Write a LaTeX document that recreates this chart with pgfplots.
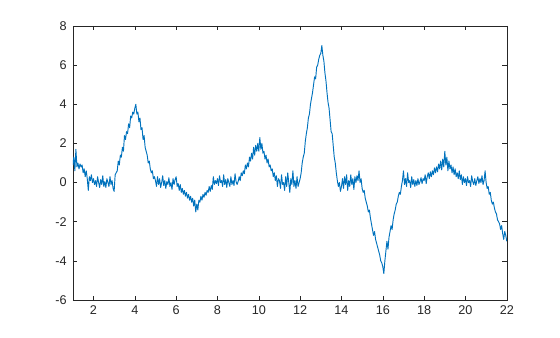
\documentclass[border=0pt]{standalone}
\usepackage{pgfplots}
\pgfplotsset{compat=1.18}
\usepackage{fontspec}
\setmainfont{Liberation Sans}
\definecolor{mblue}{rgb}{0,0.447,0.741}
\definecolor{axgray}{rgb}{0.15,0.15,0.15}
\pgfplotstableread{
x y
1.00 0.9
1.05 1.3
1.10 0.6
1.15 1.7
1.20 0.8
1.25 1.0
1.30 0.7
1.35 0.95
1.40 0.8
1.45 0.9
1.50 0.5
1.55 0.7
1.60 0.3
1.65 0.6
1.70 0.2
1.75 -0.4
1.80 0.3
1.85 0.1
1.90 0.4
1.95 0.0
2.00 0.2
2.05 -0.1
2.10 0.1
2.15 -0.2
2.20 0.3
2.25 0.0
2.30 -0.25
2.35 0.15
2.40 -0.1
2.45 0.35
2.50 -0.2
2.55 0.05
2.60 -0.25
2.65 0.2
2.70 0.0
2.75 -0.2
2.80 0.3
2.85 -0.1
2.90 0.1
2.95 -0.3
3.00 -0.45
3.05 0.4
3.10 0.5
3.15 0.6
3.20 1.1
3.25 0.9
3.30 1.4
3.35 1.3
3.40 1.8
3.45 1.6
3.50 2.4
3.55 2.2
3.60 2.6
3.65 2.5
3.70 3.0
3.75 2.8
3.80 3.4
3.85 3.3
3.90 3.6
3.95 3.5
4.00 3.8
4.05 4.0
4.10 3.5
4.15 3.6
4.20 3.1
4.25 3.3
4.30 2.7
4.35 2.8
4.40 2.2
4.45 2.4
4.50 1.8
4.55 1.6
4.60 1.4
4.65 1.0
4.70 1.1
4.75 0.7
4.80 0.5
4.85 0.6
4.90 0.2
4.95 0.3
5.00 0.1
5.05 -0.2
5.10 0.3
5.15 -0.1
5.20 0.2
5.25 -0.25
5.30 0.0
5.35 0.35
5.40 -0.15
5.45 0.1
5.50 -0.3
5.55 0.05
5.60 -0.1
5.65 0.25
5.70 -0.2
5.75 0.0
5.80 -0.35
5.85 0.2
5.90 -0.1
5.95 0.15
6.00 0.3
6.05 -0.2
6.10 -0.05
6.15 -0.4
6.20 -0.1
6.25 -0.5
6.30 -0.3
6.35 -0.6
6.40 -0.4
6.45 -0.7
6.50 -0.5
6.55 -0.8
6.60 -0.6
6.65 -0.9
6.70 -0.7
6.75 -1.0
6.80 -0.8
6.85 -1.2
6.90 -0.9
6.95 -1.5
7.00 -1.1
7.05 -1.4
7.10 -0.9
7.15 -1.0
7.20 -0.7
7.25 -0.9
7.30 -0.6
7.35 -0.75
7.40 -0.5
7.45 -0.65
7.50 -0.4
7.55 -0.5
7.60 -0.2
7.65 -0.45
7.70 -0.15
7.75 -0.35
7.80 0.3
7.85 -0.1
7.90 0.1
7.95 -0.05
8.00 0.2
8.05 -0.15
8.10 0.35
8.15 0.0
8.20 0.1
8.25 -0.2
8.30 0.4
8.35 -0.1
8.40 0.15
8.45 -0.25
8.50 0.2
8.55 0.0
8.60 -0.2
8.65 0.3
8.70 -0.1
8.75 0.1
8.80 -0.15
8.85 0.45
8.90 0.05
8.95 -0.1
9.00 0.05
9.05 0.3
9.10 0.1
9.15 0.5
9.20 0.35
9.25 0.6
9.30 0.45
9.35 0.9
9.40 0.7
9.45 1.0
9.50 0.8
9.55 1.3
9.60 1.1
9.65 1.5
9.70 1.2
9.75 1.8
9.80 1.4
9.85 1.9
9.90 1.6
9.95 2.0
10.00 1.6
10.05 2.3
10.10 1.7
10.15 2.0
10.20 1.5
10.25 1.6
10.30 1.2
10.35 1.4
10.40 1.0
10.45 1.2
10.50 0.8
10.55 0.9
10.60 0.6
10.65 0.7
10.70 0.3
10.75 0.5
10.80 0.1
10.85 0.35
10.90 -0.2
10.95 0.2
11.00 0.1
11.05 -0.3
11.10 0.4
11.15 -0.1
11.20 0.0
11.25 -0.4
11.30 0.3
11.35 -0.2
11.40 0.5
11.45 0.0
11.50 -0.5
11.55 0.2
11.60 -0.1
11.65 0.6
11.70 -0.2
11.75 0.1
11.80 -0.3
11.85 0.3
11.90 -0.2
11.95 0.0
12.00 0.2
12.05 0.5
12.10 1.0
12.15 1.3
12.20 1.5
12.25 2.1
12.30 2.5
12.35 2.8
12.40 3.3
12.45 3.5
12.50 4.0
12.55 4.3
12.60 4.6
12.65 5.0
12.70 5.4
12.75 5.3
12.80 5.9
12.85 6.0
12.90 6.3
12.95 6.5
13.00 6.6
13.05 7.0
13.10 6.5
13.15 6.2
13.20 5.6
13.25 5.2
13.30 4.6
13.35 4.1
13.40 3.8
13.45 3.2
13.50 2.6
13.55 2.5
13.60 1.9
13.65 1.3
13.70 1.0
13.75 0.5
13.80 0.1
13.85 -0.2
13.90 0.0
13.95 -0.45
14.00 -0.2
14.05 0.2
14.10 -0.3
14.15 0.3
14.20 -0.1
14.25 0.4
14.30 -0.4
14.35 0.1
14.40 -0.2
14.45 0.4
14.50 -0.1
14.55 0.2
14.60 -0.35
14.65 0.3
14.70 0.0
14.75 0.35
14.80 0.1
14.85 0.6
14.90 0.0
14.95 0.2
15.00 -0.3
15.05 -0.5
15.10 -0.4
15.15 -0.8
15.20 -1.0
15.25 -1.2
15.30 -1.5
15.35 -1.4
15.40 -1.8
15.45 -2.1
15.50 -2.4
15.55 -2.7
15.60 -2.5
15.65 -2.9
15.70 -3.1
15.75 -3.3
15.80 -3.5
15.85 -3.7
15.90 -4.0
15.95 -4.1
16.00 -4.3
16.05 -4.65
16.10 -4.0
16.15 -3.5
16.20 -3.0
16.25 -3.4
16.30 -2.8
16.35 -2.5
16.40 -2.2
16.45 -2.4
16.50 -1.9
16.55 -1.6
16.60 -1.4
16.65 -1.1
16.70 -1.0
16.75 -0.7
16.80 -0.5
16.85 -0.6
16.90 -0.2
16.95 0.1
17.00 0.6
17.05 -0.1
17.10 0.2
17.15 -0.2
17.20 0.5
17.25 0.0
17.30 0.1
17.35 -0.25
17.40 0.3
17.45 -0.1
17.50 0.15
17.55 -0.2
17.60 0.1
17.65 -0.15
17.70 0.2
17.75 -0.1
17.80 0.05
17.85 0.25
17.90 -0.05
17.95 0.2
18.00 0.1
18.05 0.4
18.10 -0.05
18.15 0.3
18.20 0.5
18.25 0.2
18.30 0.55
18.35 0.3
18.40 0.6
18.45 0.4
18.50 0.75
18.55 0.5
18.60 0.8
18.65 0.55
18.70 0.95
18.75 0.7
18.80 1.1
18.85 0.65
18.90 1.2
18.95 0.8
19.00 1.6
19.05 0.9
19.10 1.3
19.15 0.6
19.20 1.1
19.25 0.7
19.30 0.9
19.35 0.5
19.40 0.8
19.45 0.4
19.50 0.7
19.55 0.3
19.60 0.5
19.65 0.2
19.70 0.6
19.75 0.15
19.80 0.4
19.85 -0.1
19.90 0.3
19.95 0.0
20.00 0.2
20.05 -0.15
20.10 0.3
20.15 0.0
20.20 0.1
20.25 -0.2
20.30 0.35
20.35 0.05
20.40 -0.1
20.45 0.2
20.50 -0.15
20.55 0.1
20.60 0.3
20.65 -0.05
20.70 0.2
20.75 0.0
20.80 0.35
20.85 -0.1
20.90 0.1
20.95 0.6
21.00 0.0
21.05 -0.3
21.10 -0.2
21.15 -0.6
21.20 -0.5
21.25 -0.9
21.30 -1.1
21.35 -1.0
21.40 -1.3
21.45 -1.5
21.50 -1.6
21.55 -1.9
21.60 -2.0
21.65 -2.1
21.70 -2.4
21.75 -2.2
21.80 -2.6
21.85 -2.9
21.90 -2.5
21.95 -2.7
22.00 -3.0
}\sig
\begin{document}
\begin{tikzpicture}
\path (-54.6pt,-27.75pt) rectangle (365.4pt,225pt);
\begin{axis}[
  at={(0,0)}, anchor=south west,
  scale only axis, width=325.5pt, height=205.5pt,
  xmin=1, xmax=22, ymin=-6, ymax=8,
  xtick={2,4,...,22}, ytick={-6,-4,...,8},
  tick align=inside, major tick length=3.3pt,
  axis line style={axgray, line width=0.4pt},
  every tick/.style={axgray, line width=0.4pt},
  tick label style={font=\fontsize{9.5}{11}\selectfont, text=axgray},
  /pgf/number format/assume math mode=true,
  xticklabel style={yshift=-1pt},
  yticklabel style={xshift=-1pt},
]
\addplot[mblue, line width=0.7pt, line join=round] table[x=x,y=y] {\sig};
\end{axis}
\end{tikzpicture}
\end{document}
